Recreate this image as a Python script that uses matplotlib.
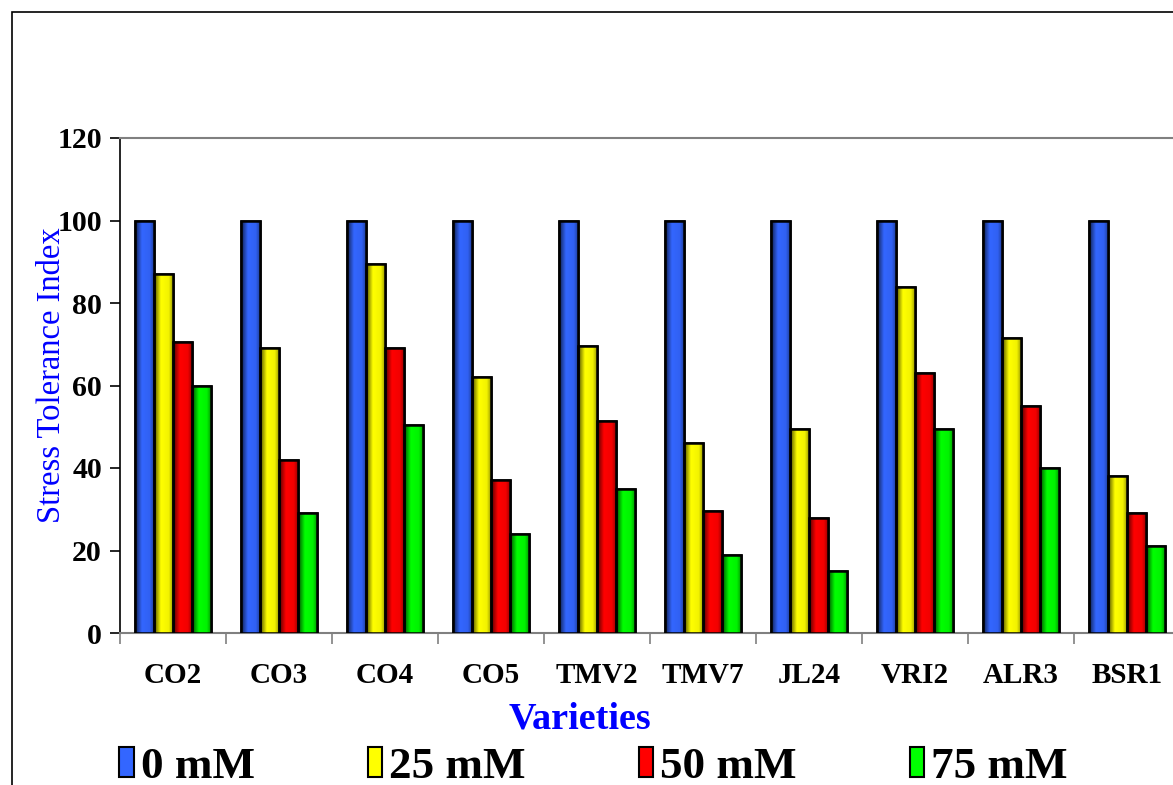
import numpy as np
import matplotlib
matplotlib.use("Agg")
import matplotlib.pyplot as plt
from matplotlib.patches import Rectangle, Patch

varieties = ["CO2", "CO3", "CO4", "CO5", "TMV2", "TMV7", "JL24", "VRI2", "ALR3", "BSR1"]
series_names = ["0 mM", "25 mM", "50 mM", "75 mM"]
v_0mM = [100, 100, 100, 100, 100, 100, 100, 100, 100, 100]
v_25mM = [87, 69, 89.5, 62, 69.5, 46, 49.5, 84, 71.5, 38]
v_50mM = [70.5, 42, 69, 37, 51.5, 29.5, 28, 63, 55, 29]
v_75mM = [60, 29, 50.5, 24, 35, 19, 15, 49.5, 40, 21]
series_values = [v_0mM, v_25mM, v_50mM, v_75mM]
colors = ["#3366FF", "#FFFF00", "#FF0000", "#00FF00"]

W, H = 1173, 785
fig = plt.figure(figsize=(W / 100, H / 100), dpi=100)
serif = ["Liberation Serif", "DejaVu Serif"]

ax = fig.add_axes([120 / W, (H - 633) / H, 1060 / W, 495 / H])

x = np.arange(len(varieties))
bw = 0.18
prof_t = np.linspace(0, 1, 64)
prof = np.interp(prof_t, [0, 0.12, 0.35, 0.75, 1.0], [0.2, 0.55, 1.0, 0.95, 0.55])

for i, (vals, c) in enumerate(zip(series_values, colors)):
    bars = ax.bar(x + (i - 1.5) * bw, vals, width=bw, color=c, edgecolor="black",
                  linewidth=1.8, zorder=3)
    rgb = np.array(matplotlib.colors.to_rgb(c))
    grad = (prof[:, None] * rgb[None, :])[None, :, :]
    for p in bars:
        bx, by = p.get_x(), p.get_y()
        pw, ph = p.get_width(), p.get_height()
        im = ax.imshow(grad, extent=[bx, bx + pw, by, by + ph], aspect="auto",
                       zorder=3.5, interpolation="bilinear")
        im.set_clip_path(p)
        p2 = Rectangle((bx, by), pw, ph, facecolor="none", edgecolor="black",
                       linewidth=1.8, zorder=4)
        ax.add_patch(p2)

ax.set_xlim(-0.5, len(varieties) - 0.5)
ax.set_ylim(0, 120)
ax.set_yticks(np.arange(0, 121, 20))
ax.set_yticklabels([str(v) for v in range(0, 121, 20)], fontsize=21.5,
                   fontweight="bold", family=serif)
ax.tick_params(axis="y", direction="out", length=7, width=1.2, pad=6, colors="black")

ax.set_xticks(np.arange(-0.5, len(varieties), 1.0))
ax.set_xticklabels([])
ax.tick_params(axis="x", which="major", direction="out", length=8, width=1.2, color="#808080")
ax.set_xticks(x, minor=True)
ax.set_xticklabels(varieties, minor=True, fontsize=21, fontweight="bold", family=serif)
ax.tick_params(axis="x", which="minor", length=0, pad=21)

ax.spines["top"].set_color("#808080")
ax.spines["top"].set_linewidth(1.5)
ax.spines["right"].set_color("#808080")
ax.spines["left"].set_color("black")
ax.spines["left"].set_linewidth(1.2)
ax.spines["bottom"].set_color("#808080")
ax.spines["bottom"].set_linewidth(1.5)

ax.set_ylabel("Stress Tolerance Index", color="#0000FF", fontsize=23.5, family=serif)
ax.yaxis.set_label_coords(-0.050, 0.52)

fig.text(580 / W, 1 - 719 / H, "Varieties", color="#0000FF", fontsize=27.5,
         fontweight="bold", family=serif, ha="center", va="center")

handles = [Patch(facecolor=c, edgecolor="black", linewidth=1.5) for c in colors]
fig.legend(handles, series_names, loc="center left", ncol=4,
           bbox_to_anchor=(119 / W, 1 - 767 / H), frameon=False,
           prop={"family": serif, "weight": "bold", "size": 32.5},
           handlelength=0.33, handleheight=0.62, handletextpad=0.15,
           columnspacing=2.5, borderpad=0, borderaxespad=0)

border = Rectangle((12 / W, -1), 3, 1 + (H - 12) / H, transform=fig.transFigure,
                   facecolor="none", edgecolor="black", linewidth=1.2, clip_on=False)
fig.add_artist(border)

fig.savefig("out.png", dpi=100)
